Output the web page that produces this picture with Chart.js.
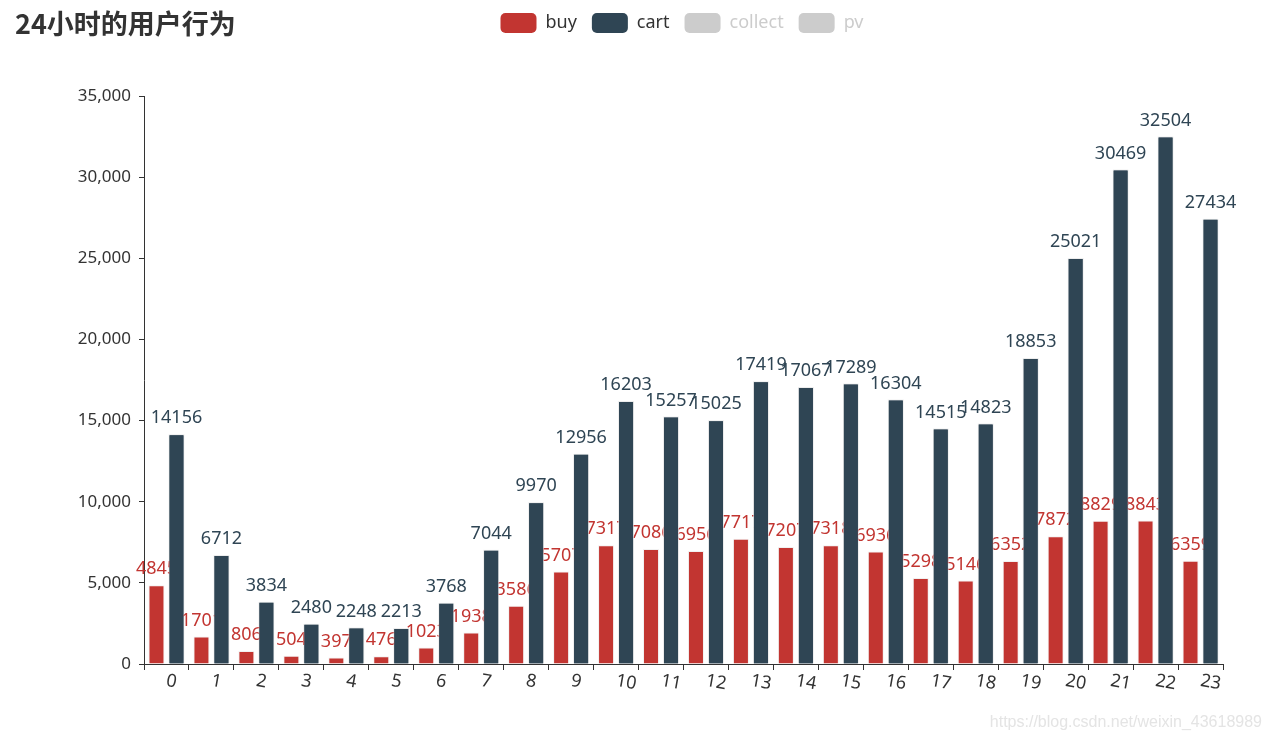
<!DOCTYPE html>
<html>
<head>
<meta charset="utf-8">
<title>24小时的用户行为</title>
<script src="https://cdn.jsdelivr.net/npm/chart.js@4/dist/chart.umd.min.js"></script>
<style>
	html, body { margin: 0; padding: 0; background: #fff; }
	canvas { display: block; }
</style>
</head>
<body>
<canvas id="chart" width="1271" height="740"></canvas>
<script>
"use strict";


const titleText = "24小时的用户行为";
const watermark = "https://blog.csdn.net/weixin_43618989";

const hours = [
	"0", "1", "2", "3", "4", "5", "6", "7", "8", "9", "10", "11",
	"12", "13", "14", "15", "16", "17", "18", "19", "20", "21", "22", "23",
];

const buyCounts = [
	4845, 1701, 806, 504, 397, 476, 1023, 1938, 3586, 5707, 7317, 7086,
	6956, 7717, 7207, 7318, 6936, 5298, 5146, 6352, 7872, 8829, 8843, 6359,
];

const cartCounts = [
	14156, 6712, 3834, 2480, 2248, 2213, 3768, 7044, 9970, 12956, 16203, 15257,
	15025, 17419, 17067, 17289, 16304, 14515, 14823, 18853, 25021, 30469, 32504, 27434,
];

// collect and pv are switched off in the legend, so no bars of theirs are shown
const collectCounts = [];
const pvCounts = [];

const textColor = "#333";
const axisColor = "#333";
const offColor = "#ccc";
const seriesColors = ["#c23531", "#2f4554", "#61a0a8", "#d48265"];
const font = "'Noto Sans', 'Noto Sans CJK SC', sans-serif";


// values above the bars; the cart bars are drawn again over the buy values
const barValues = {
	id: "barValues",
	afterDatasetDraw(chart, args) {
		const ctx = chart.ctx;
		const drawValues = (index) => {
			const meta = chart.getDatasetMeta(index);
			const values = chart.data.datasets[index].data;
			ctx.save();
			ctx.font = "18px " + font;
			ctx.fillStyle = seriesColors[index];
			ctx.textAlign = "center";
			ctx.textBaseline = "bottom";
			meta.data.forEach((bar, i) => {
				ctx.fillText(String(values[i]), bar.x, bar.y - 7);
			});
			ctx.restore();
		};
		if (args.index !== 0) return;
		drawValues(0);
		chart.getDatasetMeta(1).data.forEach(bar => bar.draw(ctx));
		drawValues(1);
	},
};


// legend sits on the title row, centred over the plot rather than the page;
// x labels start at the category centre and lean clockwise
const placement = {
	id: "placement",
	afterLayout(chart) {
		chart.legend.left = 141;
		chart.legend.top = -2;
	},
	beforeDraw(chart) {
		chart.scales.x.getLabelItems().forEach(item => {
			item.options.textAlign = "left";
		});
	},
};


const pageText = {
	id: "pageText",
	afterDraw(chart) {
		const ctx = chart.ctx;
		ctx.save();
		ctx.fillStyle = textColor;
		ctx.font = "bold 27px 'Noto Sans CJK SC', sans-serif";
		ctx.textBaseline = "middle";
		ctx.textAlign = "left";
		ctx.fillText(titleText, 15, 24);

		ctx.fillStyle = "#e4e4e4";
		ctx.font = "16px 'Liberation Sans', sans-serif";
		ctx.textAlign = "right";
		ctx.textBaseline = "alphabetic";
		ctx.fillText(watermark, 1262, 727);
		ctx.restore();
	},
};


const ctx = document.getElementById("chart").getContext("2d");

new Chart(ctx, {
	type: "bar",
	data: {
		labels: hours,
		datasets: [
			{ label: "buy", data: buyCounts },
			{ label: "cart", data: cartCounts },
			{ label: "collect", data: collectCounts, hidden: true },
			{ label: "pv", data: pvCounts, hidden: true },
		].map((set, i) => ({
			backgroundColor: seriesColors[i],
			borderColor: "rgba(235,235,235,0.7)",
			borderWidth: 1,
			barPercentage: 0.8,
			categoryPercentage: 0.89,
			...set,
		})),
	},
	options: {
		responsive: false,
		animation: false,
		layout: {
			padding: { left: 0, right: 48, top: 51, bottom: 0 },
		},
		plugins: {
			tooltip: { enabled: false },
			legend: {
				position: "top",
				labels: {
					boxWidth: 36,
					boxHeight: 20,
					padding: 15,
					useBorderRadius: true,
					borderRadius: 5,
					font: { family: font, size: 18 },
					generateLabels(chart) {
						return chart.data.datasets.map((set, i) => {
							const on = chart.isDatasetVisible(i);
							return {
								text: set.label,
								datasetIndex: i,
								fillStyle: on ? seriesColors[i] : offColor,
								strokeStyle: on ? seriesColors[i] : offColor,
								fontColor: on ? textColor : offColor,
								lineWidth: 0,
								hidden: false,
								borderRadius: 5,
							};
						});
					},
				},
				onClick(e, item, legend) {
					const chart = legend.chart;
					const i = item.datasetIndex;
					chart.setDatasetVisibility(i, !chart.isDatasetVisible(i));
					chart.update();
				},
			},
		},
		scales: {
			x: {
				afterFit(scale) { scale.height = 76; },
				border: { color: axisColor, width: 1 },
				grid: {
					offset: true,
					drawOnChartArea: false,
					color: axisColor,
					tickLength: 6,
				},
				ticks: {
					color: textColor,
					padding: 0,
					minRotation: -10,
					maxRotation: -10,
					autoSkip: false,
					font: { family: font, size: 18 },
				},
			},
			y: {
				min: 0,
				max: 35000,
				afterFit(scale) { scale.width = 144; },
				border: { color: axisColor, width: 1 },
				grid: {
					drawOnChartArea: false,
					color: axisColor,
					tickLength: 5,
				},
				ticks: {
					stepSize: 5000,
					color: textColor,
					padding: 8,
					font: { family: font, size: 17 },
				},
			},
		},
	},
	plugins: [barValues, placement, pageText],
});
</script>
</body>
</html>
